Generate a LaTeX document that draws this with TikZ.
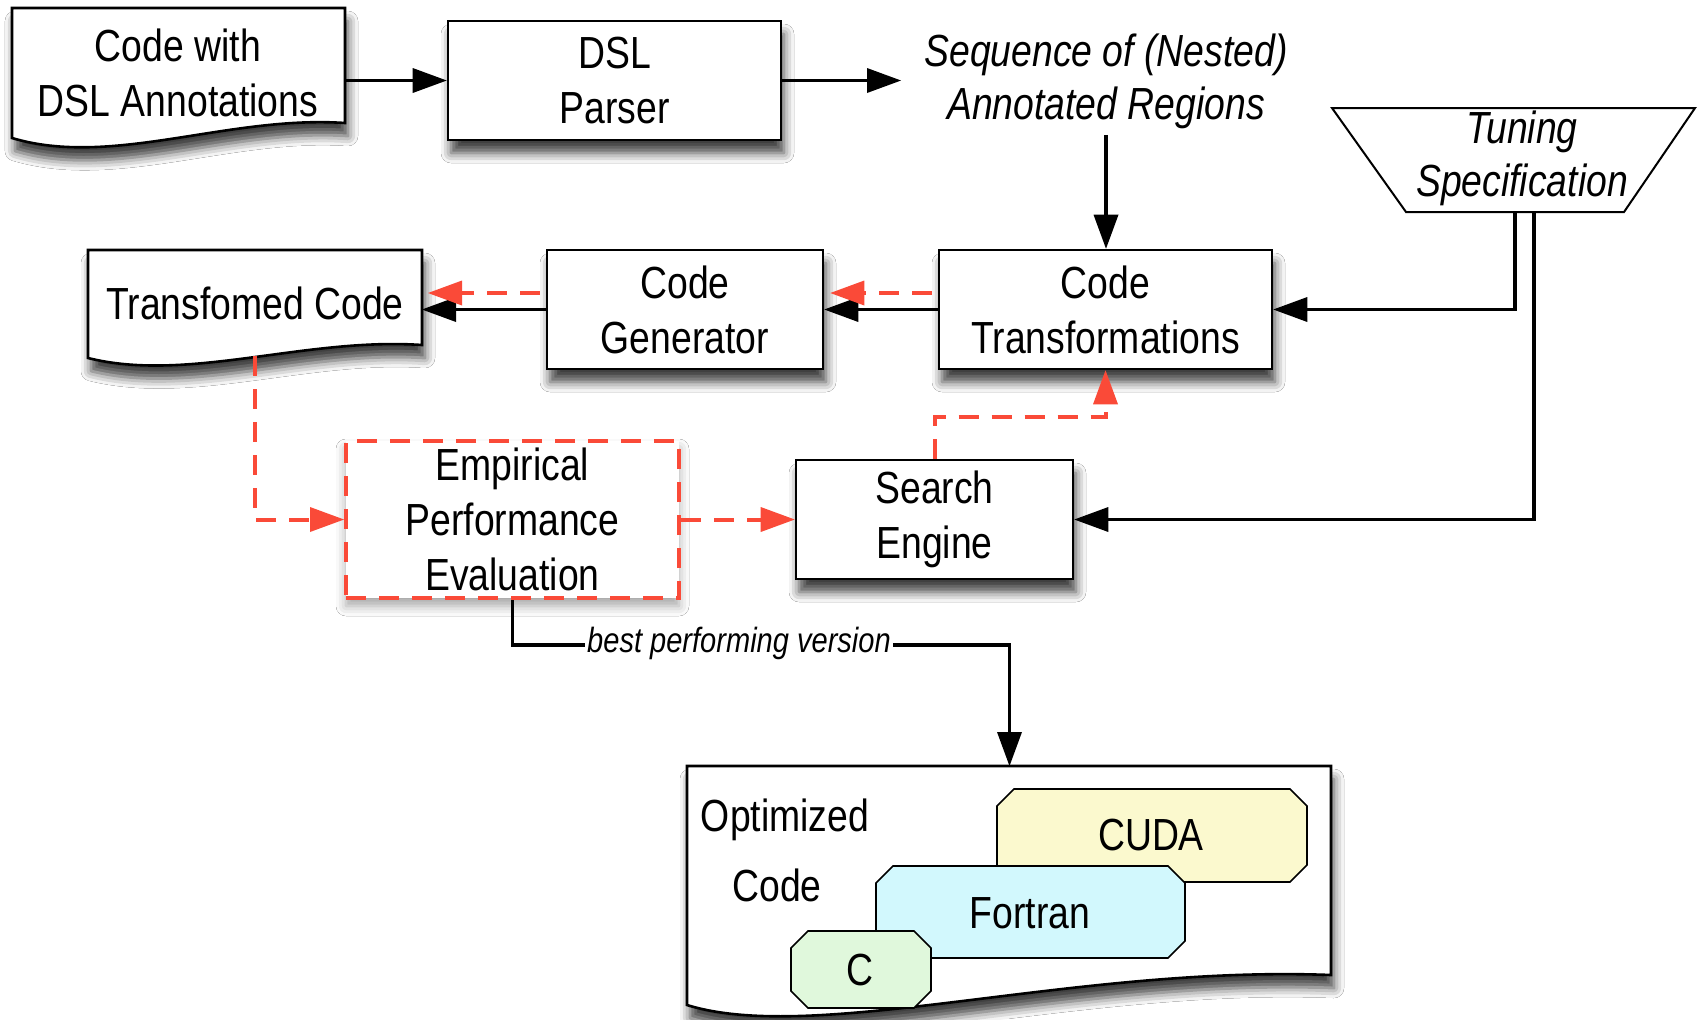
\documentclass[tikz,border=0pt]{standalone}
\usepackage{fontspec}
\setmainfont{Liberation Sans}[FakeStretch=0.83]
\usetikzlibrary{arrows.meta,shadows.blur}
\definecolor{dred}{RGB}{250,74,56}
\definecolor{cudaY}{RGB}{251,249,206}
\definecolor{fortC}{RGB}{210,248,253}
\definecolor{cGreen}{RGB}{224,248,220}
\newcommand\chamfbox[5]{\filldraw[chamf,fill=#5] (#1+17,#2) -- (#3-17,#2) -- (#3,#2+17) -- (#3,#4-17) -- (#3-17,#4) -- (#1+17,#4) -- (#1,#4-17) -- (#1,#2+17) -- cycle;}
\begin{document}
\begin{tikzpicture}[x=0.5pt,y=-0.5pt,
  txt/.style={font=\fontsize{22.5}{27.5}\selectfont, align=center, inner sep=0pt},
  itxt/.style={font=\fontsize{22.5}{26.5}\selectfont\itshape, align=center, inner sep=0pt},
  shad/.style={blur shadow={shadow xshift=1.5pt, shadow yshift=-6.5pt, shadow blur radius=5pt, shadow opacity=75}},
  box/.style={txt, draw, line width=1.3pt, fill=white, minimum height=59.5pt, shad},
  empbox/.style={txt, draw=dred, line width=2pt, dash pattern=on 10pt off 6.5pt, fill=white,
     blur shadow={shadow xshift=0pt, shadow yshift=-4pt, shadow blur radius=5pt, shadow opacity=35}},
  docline/.style={draw, line width=1.3pt, fill=white, shad},
  chamf/.style={draw, line width=0.8pt},
  arr/.style={draw=black, line width=1.8pt, opacity=1, -{Triangle[length=17pt,width=12.5pt,fill=black,line width=0pt]}},
  rarr/.style={draw=dred, line width=2pt, dash pattern=on 10pt off 6.5pt, -{Triangle[length=17pt,width=12.5pt,fill=dred,line width=0pt]}},
  lbl/.style={font=\fontsize{17.5}{20}\selectfont\itshape, fill=white, inner sep=1pt}
]
\useasboundingbox (0,0) rectangle (1702,1019);
\fill[white] (0,0) rectangle (1702,1019);

% documents
\draw[docline] (12,8) -- (345,8) -- (345,123) .. controls (228,115) and (112,168) .. (12,138) -- cycle;
\node[txt] (codetxt) at (178,73) {Code with\\DSL Annotations};
\coordinate (codeR) at (345,80.5);

\draw[docline] (88,250) -- (422,250) -- (422,345) .. controls (305,337) and (188,383) .. (88,358) -- cycle;
\node[txt] (tdtxt) at (255,303) {Transfomed Code};
\coordinate (tdR) at (422,309.5);
\coordinate (tdS) at (254.5,356);

\draw[docline] (687,766) -- (1331,766) -- (1331,975) .. controls (1073,965) and (816,1045) .. (687,1005) -- cycle;
\node[txt] (optA) at (785,820) {Optimized};
\node[txt] (optB) at (777,885) {Code};
\coordinate (optIn) at (1009.5,766);

% boxes
\node[box, minimum width=166.5pt] (parser) at (614.5,80.5) {DSL\\Parser};
\node[box, minimum width=166.5pt] (trans) at (1105.5,309.5) {Code\\Transformations};
\node[box, minimum width=138pt] (gen) at (685,309.5) {Code\\Generator};
\node[box, minimum width=138.5pt] (search) at (934.5,519.5) {Search\\Engine};
\node[empbox, minimum width=166.5pt, minimum height=78.5pt] (emp) at (512.5,519.5) {Empirical\\Performance\\Evaluation};

% sequence text
\node[itxt] (seq) at (1106,81) {Sequence of (Nested)\\Annotated Regions};
\coordinate (seqIn) at (901,80.5);

% tuning specification
\draw[line width=1pt] (1332,108) -- (1695,108) -- (1624,212) -- (1406,212) -- cycle;
\node[itxt] (tun) at (1522,158) {Tuning\\Specification};
\coordinate (tA) at (1515,212);
\coordinate (tB) at (1534,212);

% language shapes
\chamfbox{997}{789}{1307}{882}{cudaY}
\chamfbox{876}{866}{1185}{958}{fortC}
\chamfbox{791}{931}{931}{1008}{cGreen}
\node[txt] (cuda) at (1151,835) {CUDA};
\node[txt] (fortran) at (1030,913) {Fortran};
\node[txt] (clang) at (860,970) {C};

% black connectors
\draw[arr] (codeR) -- (parser.west);
\draw[arr] (parser.east) -- (seqIn);
\draw[arr, shorten <=3pt] (seq.south) -- (seq.south |- trans.north);
\draw[arr] (tA) |- (trans.east);
\draw[arr] (tB) |- (search.east);
\draw[arr] (trans.west) -- (gen.east);
\draw[arr] (gen.west) -- (gen.west -| tdR);
\draw[arr] (emp.south) -- ++(0,45) -| (optIn);
\node[lbl] (best) at (739,643) {best performing version};

% red dashed connectors
\draw[rarr, shorten <=3pt, shorten >=3pt] ([yshift=8.25pt]trans.west) -- ([yshift=8.25pt]gen.east);
\draw[rarr, shorten <=3pt, shorten >=3pt] ([yshift=8.25pt]gen.west) -- ([yshift=8.25pt]gen.west -| tdR);
\draw[rarr] (tdS) |- (emp.west);
\draw[rarr] (emp.east) -- (search.west);
\draw[rarr] (search.north) -- ++(0,-42) -| (trans.south);
\end{tikzpicture}
\end{document}
